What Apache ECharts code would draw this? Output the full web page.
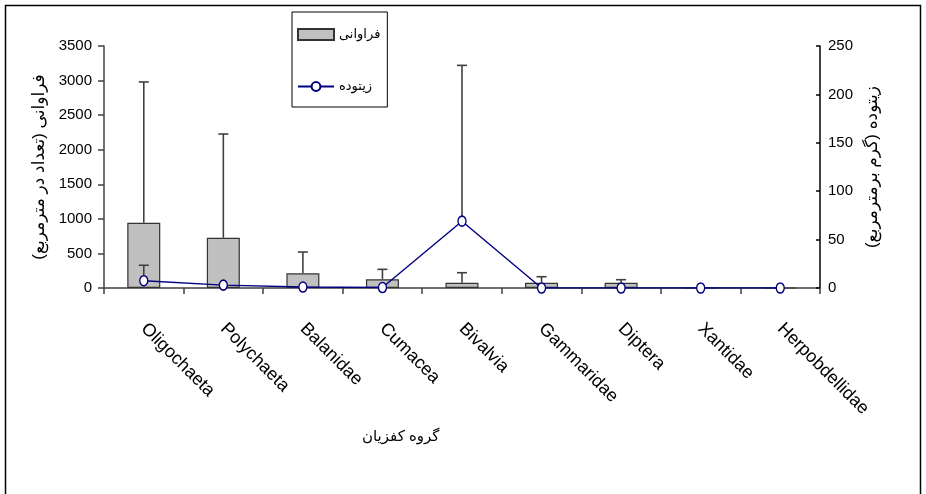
<!DOCTYPE html>
<html>
<head>
<meta charset="utf-8">
<script src="https://cdn.jsdelivr.net/npm/echarts@6/dist/echarts.min.js"></script>
<style>
html,body{margin:0;padding:0;background:#fff;}
#chart{width:926px;height:494px;}
</style>
</head>
<body>
<div id="chart"></div>
<script>
// ---- data ----
var categories = ['Oligochaeta','Polychaeta','Balanidae','Cumacea','Bivalvia','Gammaridae','Diptera','Xantidae','Herpobdellidae'];
var abundance = [944, 727, 212, 126, 77, 77, 75, 0, 0];          // فراوانی (تعداد در مترمربع)
var abundanceErr = [2036, 1500, 308, 144, 144, 86, 45, 0, 0];    // + SD
var biomass = [7.5, 3, 1, 0.5, 69, 0, 0, 0, 0];                 // زیتوده (گرم برمترمربع)
var biomassErr = [16, 0, 0, 0, 161, 0, 0, 0, 0];
var leftTicks = [0, 3500, 500];
var rightTicks = [0, 250, 50];
var seriesNames = ['فراوانی', 'زیتوده'];
var leftTitle = 'فراوانی (تعداد در مترمربع)';
var rightTitle = 'زیتوده (گرم برمترمربع)';
var xTitle = 'گروه کفزیان';

var FONT = 'Liberation Sans, Arial, DejaVu Sans, sans-serif';

function errData(vals, errs) {
  return vals.map(function (v, i) { return [i, v, v + errs[i]]; });
}
function errRender(params, api) {
  var x = api.value(0), lo = api.value(1), hi = api.value(2);
  if (!(hi > lo)) return null;
  var p0 = api.coord([x, lo]), p1 = api.coord([x, hi]);
  var w = 5;
  var st = { stroke: '#404040', lineWidth: 1.6 };
  return {
    type: 'group',
    children: [
      { type: 'line', shape: { x1: p0[0], y1: p0[1], x2: p1[0], y2: p1[1] }, style: st },
      { type: 'line', shape: { x1: p1[0] - w, y1: p1[1], x2: p1[0] + w, y2: p1[1] }, style: st }
    ]
  };
}
function plain(v) { return String(v); }

var chart = echarts.init(document.getElementById('chart'), null, { renderer: 'canvas' });
chart.setOption({
  animation: false,
  backgroundColor: '#fff',
  textStyle: { fontFamily: FONT },
  grid: { left: 104, right: 106, top: 46, bottom: 206, containLabel: false },
  legend: {
    orient: 'vertical',
    left: 292, top: 12,
    data: [{ name: seriesNames[0], icon: 'rect' }, { name: seriesNames[1] }],
    itemWidth: 36, itemHeight: 11, itemGap: 39,
    padding: [16, 7, 14, 5],
    borderColor: '#000', borderWidth: 1,
    textStyle: { fontSize: 13, color: '#000', fontFamily: FONT }
  },
  xAxis: {
    type: 'category',
    data: categories,
    boundaryGap: true,
    axisLine: { lineStyle: { color: '#404040', width: 1.5 } },
    axisTick: { show: true, length: 6, lineStyle: { color: '#404040', width: 1.5 } },
    axisLabel: { rotate: -45, fontSize: 18, color: '#000', margin: 38, fontFamily: FONT, interval: 0 }
  },
  yAxis: [
    {
      type: 'value', min: leftTicks[0], max: leftTicks[1], interval: leftTicks[2],
      position: 'left',
      name: leftTitle, nameLocation: 'middle', nameGap: 43, nameRotate: 90,
      nameTextStyle: { fontSize: 17, color: '#000', fontFamily: FONT },
      axisLine: { show: true, lineStyle: { color: '#404040', width: 1.5 } },
      axisTick: { show: true, length: 6, lineStyle: { color: '#404040', width: 1.5 } },
      axisLabel: { fontSize: 15, color: '#000', margin: 12, fontFamily: FONT, formatter: plain },
      splitLine: { show: false }
    },
    {
      type: 'value', min: rightTicks[0], max: rightTicks[1], interval: rightTicks[2],
      position: 'right',
      name: rightTitle, nameLocation: 'middle', nameGap: 37, nameRotate: 90,
      nameTextStyle: { fontSize: 17, color: '#000', fontFamily: FONT },
      axisLine: { show: true, lineStyle: { color: '#000', width: 1.5 } },
      axisTick: { show: true, inside: true, length: 4, lineStyle: { color: '#000', width: 1.5 } },
      axisLabel: { fontSize: 15, color: '#000', margin: 8, fontFamily: FONT, formatter: plain },
      splitLine: { show: false }
    }
  ],
  series: [
    {
      name: seriesNames[0], type: 'bar', yAxisIndex: 0, data: abundance,
      barWidth: 33,
      itemStyle: { color: '#c0c0c0', borderColor: '#333', borderWidth: 1.2 },
      z: 2
    },
    {
      type: 'custom', yAxisIndex: 0, data: errData(abundance, abundanceErr),
      renderItem: errRender, z: 3, silent: true,
      encode: { x: 0, y: [1, 2] }
    },
    {
      type: 'custom', yAxisIndex: 1, data: errData(biomass, biomassErr),
      renderItem: errRender, z: 3, silent: true,
      encode: { x: 0, y: [1, 2] }
    },
    {
      name: seriesNames[1], type: 'line', yAxisIndex: 1, data: biomass,
      symbol: 'circle', symbolSize: [8, 10],
      lineStyle: { color: '#000080', width: 1.4 },
      itemStyle: { color: '#fff', borderColor: '#000080', borderWidth: 1.5 },
      z: 5
    }
  ],
  graphic: [
    { type: 'rect', left: 3, top: 3, shape: { width: 915, height: 500 }, style: { fill: 'none', stroke: '#000', lineWidth: 1.5 }, silent: true },
    { type: 'text', left: 362, top: 429, style: { text: xTitle, fontSize: 15, fill: '#000', fontFamily: FONT } }
  ]
});
</script>
</body>
</html>
